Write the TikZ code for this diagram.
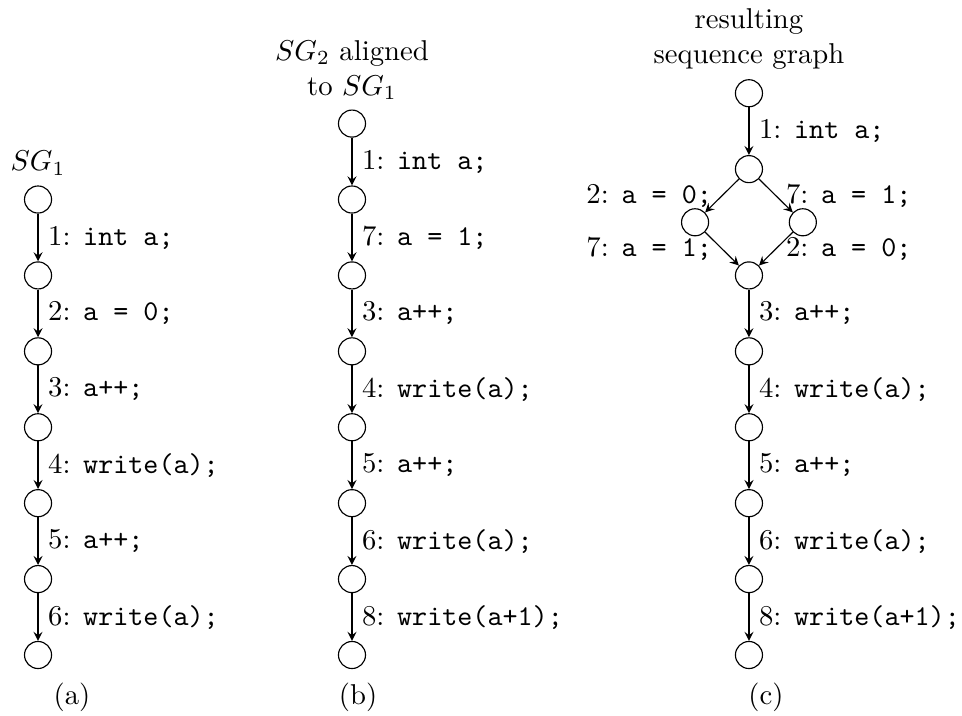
\documentclass[tikz,border=0pt]{standalone}
\begin{document}
\begin{tikzpicture}
	% Styles
	\tikzstyle{transition}=[->,>=stealth]
	\tikzstyle{etat}=[draw,circle]
	\tikzstyle{titre}=[align=center]
	\tikzstyle{legende}=[]
	% Dimensions
	\def\EcartNiveaux{0.93}
	\def\Base{0.735}
	\def\ColonneA{0.466}
	\def\ColonneB{4.312}
	\def\ColonneC{9.175}
	\def\EcartBranche{0.66}
	% Cadre
	\useasboundingbox (0,0) rectangle (11.785,8.759);
	% Noeuds (a)
	\node[etat] (A1) at ({\ColonneA},{\Base+(6)*\EcartNiveaux}) {};
	\node[etat] (A2) at ({\ColonneA},{\Base+(5)*\EcartNiveaux}) {};
	\node[etat] (A3) at ({\ColonneA},{\Base+(4)*\EcartNiveaux}) {};
	\node[etat] (A4) at ({\ColonneA},{\Base+(3)*\EcartNiveaux}) {};
	\node[etat] (A5) at ({\ColonneA},{\Base+(2)*\EcartNiveaux}) {};
	\node[etat] (A6) at ({\ColonneA},{\Base+(1)*\EcartNiveaux}) {};
	\node[etat] (A7) at ({\ColonneA},{\Base+(0)*\EcartNiveaux}) {};
	\node[titre,above] (titreA) at (A1.north) {$SG_1$};
	% Noeuds (b)
	\node[etat] (B1) at ({\ColonneB},{\Base+(7)*\EcartNiveaux}) {};
	\node[etat] (B2) at ({\ColonneB},{\Base+(6)*\EcartNiveaux}) {};
	\node[etat] (B3) at ({\ColonneB},{\Base+(5)*\EcartNiveaux}) {};
	\node[etat] (B4) at ({\ColonneB},{\Base+(4)*\EcartNiveaux}) {};
	\node[etat] (B5) at ({\ColonneB},{\Base+(3)*\EcartNiveaux}) {};
	\node[etat] (B6) at ({\ColonneB},{\Base+(2)*\EcartNiveaux}) {};
	\node[etat] (B7) at ({\ColonneB},{\Base+(1)*\EcartNiveaux}) {};
	\node[etat] (B8) at ({\ColonneB},{\Base+(0)*\EcartNiveaux}) {};
	\node[titre,above] (titreB) at (B1.north) {$SG_2$ aligned\\to $SG_1$};
	% Noeuds (c)
	\node[etat] (C1) at ({\ColonneC},{\Base+(7.40)*\EcartNiveaux}) {};
	\node[etat] (C2) at ({\ColonneC},{\Base+(6.40)*\EcartNiveaux}) {};
	\node[etat] (C2g) at ({\ColonneC-\EcartBranche},{\Base+(5.70)*\EcartNiveaux}) {};
	\node[etat] (C2d) at ({\ColonneC+\EcartBranche},{\Base+(5.70)*\EcartNiveaux}) {};
	\node[etat] (C3) at ({\ColonneC},{\Base+(5)*\EcartNiveaux}) {};
	\node[etat] (C4) at ({\ColonneC},{\Base+(4)*\EcartNiveaux}) {};
	\node[etat] (C5) at ({\ColonneC},{\Base+(3)*\EcartNiveaux}) {};
	\node[etat] (C6) at ({\ColonneC},{\Base+(2)*\EcartNiveaux}) {};
	\node[etat] (C7) at ({\ColonneC},{\Base+(1)*\EcartNiveaux}) {};
	\node[etat] (C8) at ({\ColonneC},{\Base+(0)*\EcartNiveaux}) {};
	\node[titre,above] (titreC) at (C1.north) {resulting\\sequence graph};
	% Legendes
	\node[legende] (legA) at (0.882,0.22) {(a)};
	\node[legende] (legB) at (4.386,0.22) {(b)};
	\node[legende] (legC) at (9.384,0.22) {(c)};
	% Arcs (a)
	\draw[transition] (A1)--(A2) node[midway,right]{1: \texttt{int a;}};
	\draw[transition] (A2)--(A3) node[midway,right]{2: \texttt{a = 0;}};
	\draw[transition] (A3)--(A4) node[midway,right]{3: \texttt{a++;}};
	\draw[transition] (A4)--(A5) node[midway,right]{4: \texttt{write(a);}};
	\draw[transition] (A5)--(A6) node[midway,right]{5: \texttt{a++;}};
	\draw[transition] (A6)--(A7) node[midway,right]{6: \texttt{write(a);}};
	% Arcs (b)
	\draw[transition] (B1)--(B2) node[midway,right]{1: \texttt{int a;}};
	\draw[transition] (B2)--(B3) node[midway,right]{7: \texttt{a = 1;}};
	\draw[transition] (B3)--(B4) node[midway,right]{3: \texttt{a++;}};
	\draw[transition] (B4)--(B5) node[midway,right]{4: \texttt{write(a);}};
	\draw[transition] (B5)--(B6) node[midway,right]{5: \texttt{a++;}};
	\draw[transition] (B6)--(B7) node[midway,right]{6: \texttt{write(a);}};
	\draw[transition] (B7)--(B8) node[midway,right]{8: \texttt{write(a+1);}};
	% Arcs (c)
	\draw[transition] (C1)--(C2) node[midway,right]{1: \texttt{int a;}};
	\draw[transition] (C2)--(C2g) node[midway,left]{2: \texttt{a = 0;}};
	\draw[transition] (C2)--(C2d) node[midway,right]{7: \texttt{a = 1;}};
	\draw[transition] (C2g)--(C3) node[midway,left]{7: \texttt{a = 1;}};
	\draw[transition] (C2d)--(C3) node[midway,right]{2: \texttt{a = 0;}};
	\draw[transition] (C3)--(C4) node[midway,right]{3: \texttt{a++;}};
	\draw[transition] (C4)--(C5) node[midway,right]{4: \texttt{write(a);}};
	\draw[transition] (C5)--(C6) node[midway,right]{5: \texttt{a++;}};
	\draw[transition] (C6)--(C7) node[midway,right]{6: \texttt{write(a);}};
	\draw[transition] (C7)--(C8) node[midway,right]{8: \texttt{write(a+1);}};
\end{tikzpicture}
\end{document}
